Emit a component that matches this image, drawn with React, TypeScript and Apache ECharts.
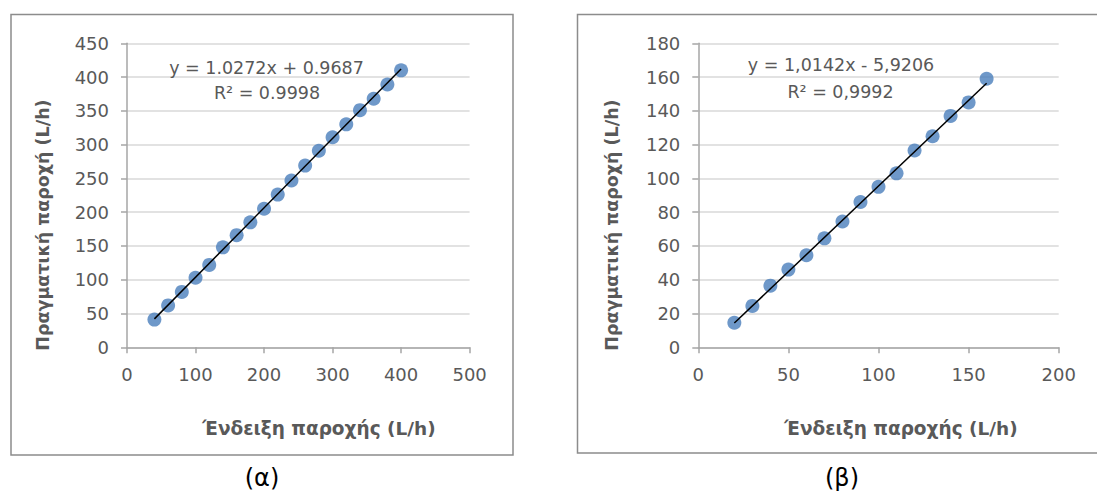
import React, { useEffect, useRef } from "react";
import * as echarts from "echarts";

// Panel (α): meter reading vs. actual flow
const readingA = [40, 60, 80, 100, 120, 140, 160, 180, 200, 220, 240, 260, 280, 300, 320, 340, 360, 380, 400];
const actualA = [41, 62, 82, 103, 122, 148, 166, 185, 205, 226, 247, 269, 291, 311, 330, 351, 368, 389, 410];
const slopeA = 1.0272;
const interceptA = 0.9687;
const eqA = ["y = 1.0272x + 0.9687", "R² = 0.9998"];

// Panel (β)
const readingB = [20, 30, 40, 50, 60, 70, 80, 90, 100, 110, 120, 130, 140, 150, 160];
const actualB = [14.5, 24.5, 36.5, 46, 54.5, 64.5, 74.5, 86, 95, 103, 116.5, 125, 137, 145, 159];
const slopeB = 1.0142;
const interceptB = -5.9206;
const eqB = ["y = 1,0142x - 5,9206", "R² = 0,9992"];

const xTitle = "Ένδειξη παροχής (L/h)";
const yTitle = "Πραγματική παροχή (L/h)";
const panelLabels = ["(α)", "(β)"];

const FONT = "DejaVu Sans";
const TEXT = "#595959";
const DOT = "#4a7ebb";

const trend = (xs: number[], m: number, b: number) => {
  const lo = Math.min(...xs);
  const hi = Math.max(...xs);
  return [
    [lo, m * lo + b],
    [hi, m * hi + b],
  ];
};

const axisCommon = {
  axisLine: { show: true, lineStyle: { color: "#a6a6a6", width: 1.5 } },
  axisTick: { show: true, length: 6, lineStyle: { color: "#a6a6a6", width: 1.5 } },
  axisLabel: { color: TEXT, fontFamily: FONT, fontSize: 18, margin: 18 },
};

export default function App() {
  const ref = useRef<HTMLDivElement>(null);

  useEffect(() => {
    if (!ref.current) return;
    const chart = echarts.init(ref.current, null, { renderer: "svg" });

    const text = (x: number, y: number, t: string, opts: any = {}) => ({
      type: "text",
      x,
      y,
      rotation: opts.rotation || 0,
      style: {
        text: t,
        fill: opts.fill || TEXT,
        font: `${opts.weight || "normal"} ${opts.size || 17.5}px "${FONT}"`,
        textAlign: "center",
        textVerticalAlign: "middle",
      },
      z: 10,
    });

    chart.setOption({
      animation: false,
      backgroundColor: "#ffffff",
      grid: [
        { left: 127, top: 43.3, width: 342.6, height: 304 },
        { left: 698.3, top: 43.3, width: 360.4, height: 304 },
      ],
      xAxis: [
        {
          ...axisCommon,
          type: "value",
          gridIndex: 0,
          min: 0,
          max: 500,
          interval: 100,
          splitLine: { show: false },
        },
        {
          ...axisCommon,
          type: "value",
          gridIndex: 1,
          min: 0,
          max: 200,
          interval: 50,
          splitLine: { show: false },
        },
      ],
      yAxis: [
        {
          ...axisCommon,
          type: "value",
          gridIndex: 0,
          min: 0,
          max: 450,
          interval: 50,
          splitLine: { show: true, lineStyle: { color: "#d9d9d9", width: 1.5 } },
        },
        {
          ...axisCommon,
          type: "value",
          gridIndex: 1,
          min: 0,
          max: 180,
          interval: 20,
          splitLine: { show: true, lineStyle: { color: "#d9d9d9", width: 1.5 } },
        },
      ],
      series: [
        {
          type: "scatter",
          xAxisIndex: 0,
          yAxisIndex: 0,
          data: readingA.map((x, i) => [x, actualA[i]]),
          symbolSize: 14,
          itemStyle: { color: DOT },
          z: 2,
        },
        {
          type: "line",
          xAxisIndex: 0,
          yAxisIndex: 0,
          data: trend(readingA, slopeA, interceptA),
          showSymbol: false,
          lineStyle: { color: "#000000", width: 1.5 },
          z: 3,
        },
        {
          type: "scatter",
          xAxisIndex: 1,
          yAxisIndex: 1,
          data: readingB.map((x, i) => [x, actualB[i]]),
          symbolSize: 14,
          itemStyle: { color: DOT },
          z: 2,
        },
        {
          type: "line",
          xAxisIndex: 1,
          yAxisIndex: 1,
          data: trend(readingB, slopeB, interceptB),
          showSymbol: false,
          lineStyle: { color: "#000000", width: 1.5 },
          z: 3,
        },
      ],
      graphic: [
        {
          type: "rect",
          shape: { x: 11, y: 14.5, width: 502, height: 440.5 },
          style: { fill: "none", stroke: "#8c8c8c", lineWidth: 1.5 },
          z: -1,
        },
        {
          type: "rect",
          shape: { x: 577.5, y: 14.5, width: 540, height: 438.5 },
          style: { fill: "none", stroke: "#8c8c8c", lineWidth: 1.5 },
          z: -1,
        },
        text(266.5, 68, eqA[0]),
        text(267, 92.7, eqA[1]),
        text(841, 65, eqB[0]),
        text(840.5, 92, eqB[1]),
        text(319, 428, xTitle, { weight: "bold", size: 18.5 }),
        text(901, 428, xTitle, { weight: "bold", size: 18.5 }),
        text(43, 225, yTitle, { weight: "bold", size: 17.5, rotation: Math.PI / 2 }),
        text(612, 225, yTitle, { weight: "bold", size: 17.5, rotation: Math.PI / 2 }),
        text(262, 478, panelLabels[0], { size: 24, fill: "#000000" }),
        text(842, 478, panelLabels[1], { size: 24, fill: "#000000" }),
      ],
    });

    return () => chart.dispose();
  }, []);

  return (
    <div
      ref={ref}
      style={{ position: "absolute", left: 0, top: 0, width: 1097, height: 493, background: "#ffffff" }}
    />
  );
}
